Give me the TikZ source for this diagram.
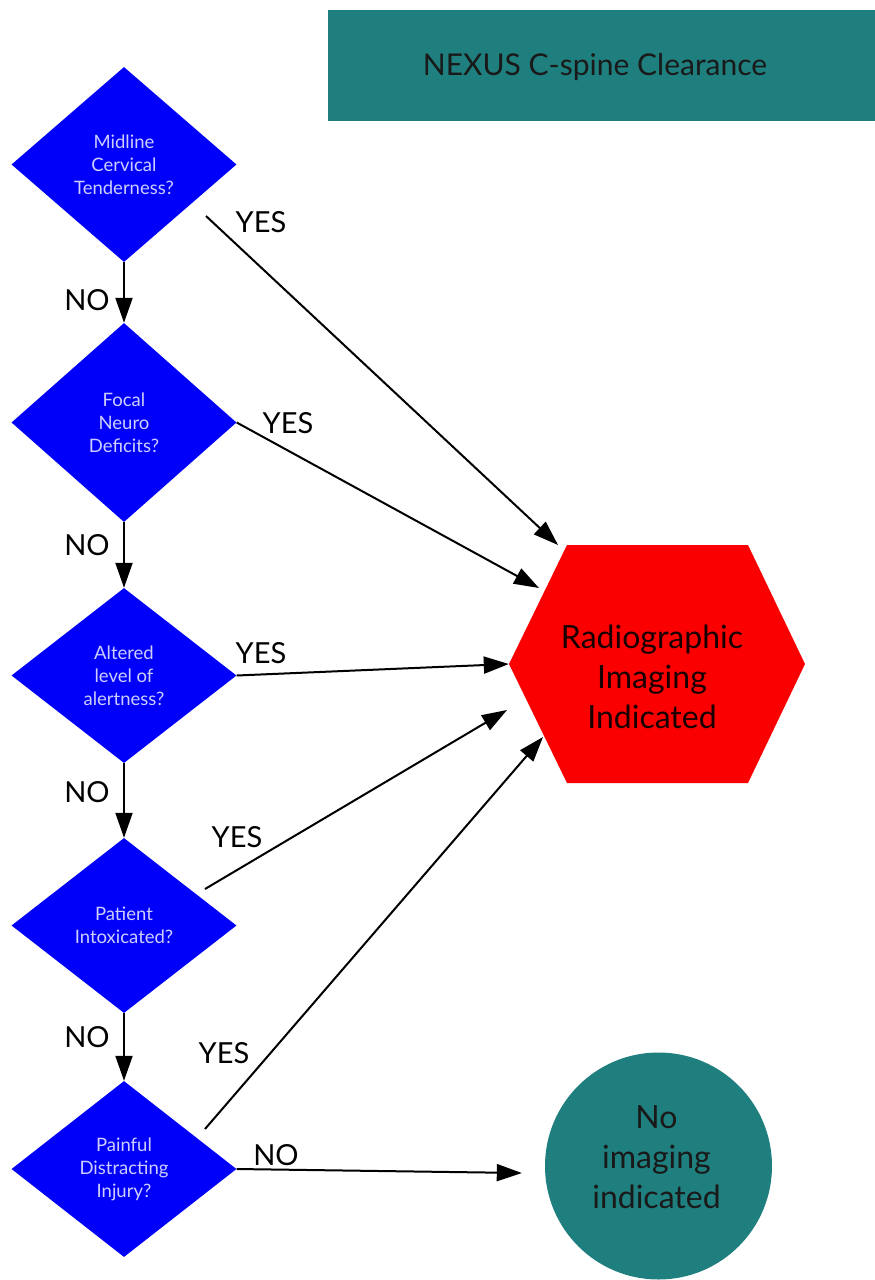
\documentclass[tikz,border=0pt]{standalone}
\usepackage{fontspec}
\setmainfont{Lato}
\usetikzlibrary{shapes.geometric,arrows.meta,calc}
\definecolor{tealbox}{RGB}{31,127,126}
\definecolor{qblue}{RGB}{0,0,250}
\definecolor{qtext}{RGB}{205,205,255}
\definecolor{hexred}{RGB}{250,0,0}
\tikzset{
  question/.style={diamond, fill=qblue, text=qtext, inner sep=0pt,
    minimum width=225pt, align=center,
    font=\fontsize{18.5}{23}\selectfont},
  flow/.style={line width=2pt, -{Triangle[width=17pt,length=25pt]}},
  answer/.style={font=\fontsize{29}{32}\selectfont, text=black},
  bigtext/.style={align=center, inner sep=0pt, font=\fontsize{32}{40}\selectfont},
}
\begin{document}
\begin{tikzpicture}[x=1pt,y=-1pt]
\useasboundingbox (0,0) rectangle (875,1280);

% title banner
\fill[tealbox] (328,10) rectangle (875,121);
\node[font=\fontsize{30}{34}\selectfont, text=black!90] (title) at (595,67) {NEXUS C-spine Clearance};

% decision diamonds
\node[question, minimum height=195pt] (d1) at (124,164.5) {Midline\\Cervical\\Tenderness?};
\node[question, minimum height=199pt] (d2) at (124,422.5) {Focal\\Neuro\\Deficits?};
\node[question, minimum height=175pt] (d3) at (124,675.5) {Altered\\level of\\alertness?};
\node[question, minimum height=175pt] (d4) at (124,925.5) {Patient\\Intoxicated?};
\node[question, minimum height=176pt] (d5) at (124,1169) {Painful\\Distracting\\Injury?};

% outcome: imaging
\coordinate (hc) at (657,664);
\fill[hexred] ($(hc)+(-90,-119)$) -- ($(hc)+(91,-119)$) -- ($(hc)+(148,0)$)
  -- ($(hc)+(91,119)$) -- ($(hc)+(-90,119)$) -- ($(hc)+(-148,0)$) -- cycle;
\node[minimum width=296pt, minimum height=238pt, inner sep=0pt] (hex) at (hc) {};
\node[bigtext, text=black!90!red] (hextext) at ($(hc)+(-5,13)$)
  {Radiographic\\Imaging\\Indicated};

% outcome: no imaging
\node[circle, fill=tealbox, minimum size=227pt, inner sep=0pt] (noimg) at (658.5,1166) {};
\node[bigtext, text=black!90] (notext) at ($(noimg.center)+(-2,-9)$)
  {No\\imaging\\indicated};

% NO branches down the column
\draw[flow] (d1.south) -- (d2.north);
\draw[flow] (d2.south) -- (d3.north);
\draw[flow] (d3.south) -- (d4.north);
\draw[flow] (d4.south) -- (d5.north);

% YES branches into the imaging hexagon
\coordinate (y1s) at (206,216);
\coordinate (y4s) at (205,889);
\coordinate (y5s) at (205,1129);
\draw[flow] (y1s) -- ($(hex.center)+(-99,-119)$);
\draw[flow] (d2.east) -- ($(hex.center)+(-118,-76)$);
\draw[flow] (d3.east) -- (hex.west);
\draw[flow] (y4s) -- ($(hex.center)+(-150,46)$);
\draw[flow] (y5s) -- ($(hex.center)+(-114,73)$);

% final NO branch
\draw[flow] (d5.east) -- ($(noimg.west)+(-23,7)$);

% branch labels
\node[answer] (l1) at (261,222) {YES};
\node[answer] (l2) at (288,423) {YES};
\node[answer] (l3) at (261,653) {YES};
\node[answer] (l4) at (237,837) {YES};
\node[answer] (l5) at (224,1053) {YES};
\node[answer] (n1) at (87,300) {NO};
\node[answer] (n2) at (87,545) {NO};
\node[answer] (n3) at (87,792) {NO};
\node[answer] (n4) at (87,1037) {NO};
\node[answer] (n5) at (276,1155) {NO};
\end{tikzpicture}
\end{document}
